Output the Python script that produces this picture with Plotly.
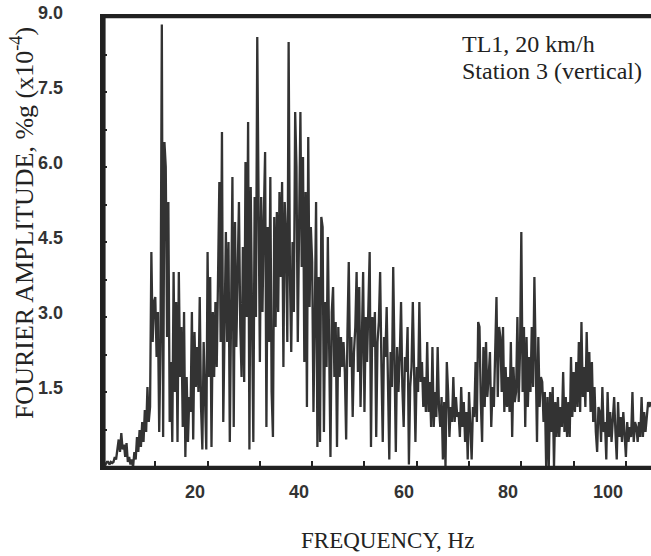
import plotly.graph_objects as go

# Fourier amplitude spectrum: four samples per 1 Hz bin (0.25 Hz step)
amp_rows = [
    [0.05, 0.08, 0.05, 0.10],  # 0 Hz
    [0.10, 0.05, 0.10, 0.08],
    [0.10, 0.20, 0.15, 0.35],
    [0.55, 0.30, 0.68, 0.35],
    [0.45, 0.20, 0.48, 0.10],
    [0.20, 0.05, 0.15, 0.00],
    [0.30, 0.15, 0.60, 0.30],
    [0.74, 0.40, 0.90, 0.50],
    [1.14, 0.70, 1.60, 0.90],
    [1.20, 4.30, 2.50, 3.30],
    [3.40, 2.20, 3.10, 0.70],  # 10 Hz
    [2.50, 8.85, 0.60, 6.50],
    [6.00, 2.60, 5.30, 0.90],
    [2.10, 0.50, 3.90, 1.50],
    [3.30, 0.50, 3.90, 1.80],
    [2.80, 0.80, 3.10, 0.20],
    [1.80, 0.50, 1.40, 1.10],
    [3.10, 0.55, 2.70, 1.60],
    [2.40, 1.50, 3.40, 1.20],
    [0.35, 2.50, 1.20, 0.35],
    [4.30, 1.80, 3.80, 0.40],  # 20 Hz
    [3.10, 1.80, 3.30, 2.00],
    [3.80, 5.70, 2.50, 6.70],
    [0.90, 3.30, 4.70, 2.50],
    [4.50, 0.50, 3.60, 5.80],
    [0.80, 4.90, 2.40, 4.20],
    [5.30, 2.80, 1.80, 4.40],
    [1.70, 6.10, 3.00, 6.90],
    [0.35, 5.60, 3.20, 0.50],
    [5.40, 3.00, 8.60, 6.00],
    [2.10, 5.40, 3.10, 5.00],  # 30 Hz
    [6.30, 0.80, 4.80, 2.50],
    [5.80, 1.50, 0.60, 5.00],
    [2.80, 5.10, 3.10, 5.50],
    [3.80, 5.70, 2.00, 5.30],
    [4.60, 2.50, 8.50, 3.80],
    [2.30, 4.50, 3.10, 7.10],
    [6.00, 2.50, 5.00, 7.10],
    [4.00, 6.20, 2.10, 5.50],
    [1.20, 6.60, 3.20, 4.80],
    [4.10, 1.10, 3.00, 5.30],  # 40 Hz
    [0.40, 3.80, 0.50, 5.00],
    [4.80, 0.70, 3.30, 2.00],
    [4.60, 2.20, 0.20, 3.10],
    [3.60, 1.80, 2.90, 0.40],
    [2.80, 1.80, 2.60, 2.00],
    [2.50, 1.90, 0.55, 2.70],
    [4.10, 2.00, 2.60, 1.00],
    [2.30, 2.80, 3.90, 1.90],
    [3.60, 1.20, 2.80, 3.90],
    [1.10, 3.00, 2.10, 3.10],  # 50 Hz
    [4.30, 0.40, 3.00, 2.40],
    [3.10, 0.60, 2.50, 2.90],
    [3.90, 2.00, 0.50, 2.60],
    [2.20, 3.20, 1.50, 0.15],
    [2.30, 1.60, 4.00, 1.80],
    [0.30, 2.40, 1.50, 2.20],
    [3.30, 1.60, 0.80, 2.20],
    [1.90, 2.80, 0.05, 1.60],
    [2.00, 3.30, 1.50, 0.50],
    [2.00, 1.50, 3.30, 1.70],  # 60 Hz
    [2.10, 1.20, 1.80, 1.10],
    [2.50, 1.10, 1.70, 0.80],
    [2.40, 0.80, 1.50, 1.00],
    [2.40, 1.20, 0.80, 1.40],
    [0.15, 1.30, 0.00, 2.10],
    [1.50, 0.60, 1.20, 0.90],
    [1.80, 0.90, 1.40, 1.00],
    [1.10, 0.60, 1.60, 0.80],
    [1.30, 0.50, 1.10, 0.15],
    [1.50, 0.60, 0.15, 1.20],  # 70 Hz
    [1.00, 2.10, 0.90, 2.90],
    [2.80, 1.30, 0.50, 2.40],
    [1.20, 2.50, 1.40, 1.80],
    [2.30, 0.80, 1.60, 1.20],
    [2.40, 3.40, 1.40, 2.80],
    [2.60, 1.50, 2.80, 1.10],
    [2.00, 1.20, 1.80, 1.10],
    [2.50, 0.60, 2.00, 1.30],
    [1.50, 3.00, 1.30, 2.30],
    [4.70, 1.50, 2.80, 0.80],  # 80 Hz
    [2.60, 1.20, 2.20, 1.50],
    [2.80, 1.60, 3.80, 2.40],
    [0.50, 2.60, 1.20, 1.80],
    [1.70, 0.90, 1.50, 0.00],
    [1.40, 0.00, 1.50, 0.70],
    [1.60, 0.00, 1.30, 0.60],
    [1.40, 0.60, 1.20, 0.80],
    [1.90, 0.70, 1.40, 0.60],
    [1.30, 0.60, 2.20, 1.00],
    [1.90, 1.10, 2.10, 1.20],  # 90 Hz
    [2.50, 1.10, 2.90, 1.40],
    [2.00, 1.20, 2.70, 1.50],
    [2.30, 1.10, 2.10, 0.90],
    [1.60, 0.70, 0.30, 1.20],
    [1.10, 0.50, 1.60, 0.70],
    [0.90, 0.15, 1.50, 0.60],
    [1.10, 0.50, 0.90, 1.40],
    [0.70, 0.15, 1.30, 0.60],
    [1.00, 0.50, 1.10, 0.60],
    [0.20, 0.90, 0.50, 0.80],  # 100 Hz
    [0.60, 1.50, 0.50, 0.90],
    [0.80, 0.50, 0.90, 0.60],
    [1.40, 0.60, 1.10, 0.70],
    [1.10, 1.30, 1.20, 1.30],
]
freq_step = 0.25

x_tick_vals = [20, 40, 60, 80, 100]
x_tick_text = ["20", "40", "60", "80", "100"]
y_tick_vals = [1.5, 3.0, 4.5, 6.0, 7.5, 9.0]
y_tick_text = ["1.5", "3.0", "4.5", "6.0", "7.5", "9.0"]
x_minor_ticks = [10, 20, 30, 40, 50, 60, 70, 80, 90, 100]
y_minor_ticks = [0.75, 1.5, 2.25, 3.0, 3.75, 4.5, 5.25, 6.0, 6.75, 7.5, 8.25]

x_title = "FREQUENCY, Hz"
y_title = "FOURIER AMPLITUDE, %g (x10<sup>-4</sup>)"
note_lines = ["TL1, 20 km/h", "Station 3 (vertical)"]

amp = [v for row in amp_rows for v in row]
freq = [i * freq_step for i in range(len(amp))]

ink = "#333333"
frame = "#222222"
serif = "Liberation Serif, Times New Roman, serif"
tickfont = dict(family="Liberation Sans, Arial, sans-serif", size=18, color="#333333")

fig = go.Figure()
fig.add_trace(go.Scatter(x=freq, y=amp, mode="lines",
                         line=dict(color=ink, width=2.3), hoverinfo="skip"))

fig.update_layout(
    width=651, height=556,
    margin=dict(l=103, r=0, t=17, b=89),
    plot_bgcolor="white", paper_bgcolor="white",
    showlegend=False,
    xaxis=dict(range=[0, 104.8], showgrid=False, zeroline=False,
               showline=True, linecolor=frame, linewidth=2.5, mirror=True,
               ticks="inside", tickvals=x_minor_ticks, ticklen=6, tickwidth=1.5,
               tickcolor=frame, showticklabels=False, layer="above traces"),
    yaxis=dict(range=[0, 9.0], showgrid=False, zeroline=False,
               showline=True, linecolor=frame, linewidth=3, mirror=False,
               ticks="inside", tickvals=y_minor_ticks, ticklen=4, tickwidth=2,
               tickcolor=frame, showticklabels=False, layer="above traces"),
    shapes=[
        dict(type="rect", xref="paper", yref="paper", x0=0, x1=1.01, y0=0, y1=1,
             line=dict(color=frame, width=2.5), fillcolor="rgba(0,0,0,0)", layer="above"),
        dict(type="line", xref="paper", yref="paper", x0=0.002, x1=0.002, y0=-0.003, y1=1.003,
             line=dict(color=frame, width=3), layer="above"),
    ],
)

annotations = []
for v, t in zip(x_tick_vals, x_tick_text):
    annotations.append(dict(x=v, y=0, xref="x", yref="paper", text="<b>%s</b>" % t,
                            showarrow=False, xanchor="right", yanchor="middle",
                            xshift=-1, yshift=-25, font=tickfont))
for v, t in zip(y_tick_vals, y_tick_text):
    annotations.append(dict(x=0, y=v, xref="paper", yref="y", text="<b>%s</b>" % t,
                            showarrow=False, xanchor="right", yanchor="middle",
                            xshift=-38, yshift=4, font=tickfont))
annotations.append(dict(x=0.52, y=0, xref="paper", yref="paper", text=x_title,
                        showarrow=False, xanchor="center", yanchor="middle", yshift=-73,
                        font=dict(family=serif, size=23, color="#222222")))
annotations.append(dict(x=0, y=0.542, xref="paper", yref="paper", text=y_title,
                        showarrow=False, textangle=-90, xanchor="center", yanchor="middle",
                        xshift=-81, font=dict(family=serif, size=26, color="#222222")))
for i, line in enumerate(note_lines):
    annotations.append(dict(x=0.652, y=0.94 - i * 0.06, xref="paper", yref="paper", text=line,
                            showarrow=False, xanchor="left", yanchor="middle",
                            font=dict(family=serif, size=24, color="#222222")))
fig.update_layout(annotations=annotations)

fig.write_html("out.html")
